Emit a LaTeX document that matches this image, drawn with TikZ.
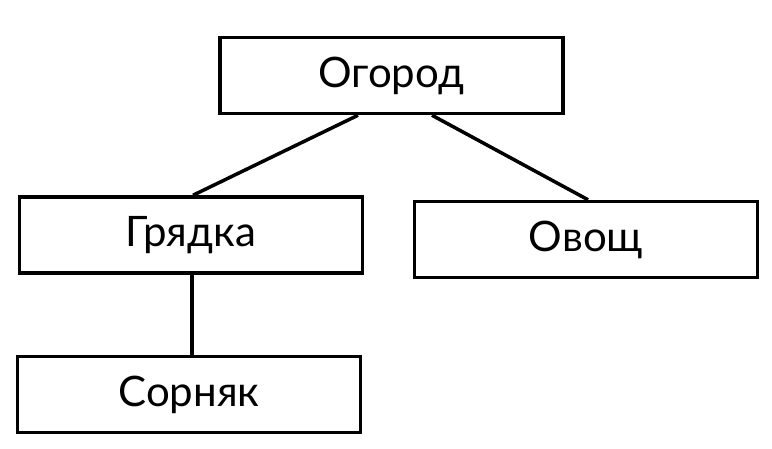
\documentclass[tikz,border=0pt]{standalone}
\usepackage{fontspec}
\setmainfont{Lato}
\begin{document}
\begin{tikzpicture}[x=1pt,y=-1pt,
  box/.style={draw=black, line width=3.5pt, minimum width=343pt, minimum height=76pt, inner sep=0pt, font=\fontsize{42}{50}\selectfont, text=black},
  link/.style={draw=black, line width=3.5pt}]
\useasboundingbox[fill=white] (0,0) rectangle (772,448);
\node[box] (ogorod) at (391.5,75.5) {Огород};
\node[box] (grjadka) at (191,235) {Грядка};
\node[box] (ovosch) at (586,239.5) {Овощ};
\node[box] (sornjak) at (189,394.5) {Сорняк};
\draw[link] ([xshift=-33.5pt]ogorod.south) -- ([xshift=2pt]grjadka.north);
\draw[link] ([xshift=40.5pt]ogorod.south) -- ([xshift=2pt]ovosch.north);
\draw[link] ([xshift=1pt]grjadka.south) -- ([xshift=3pt]sornjak.north);
\end{tikzpicture}
\end{document}
